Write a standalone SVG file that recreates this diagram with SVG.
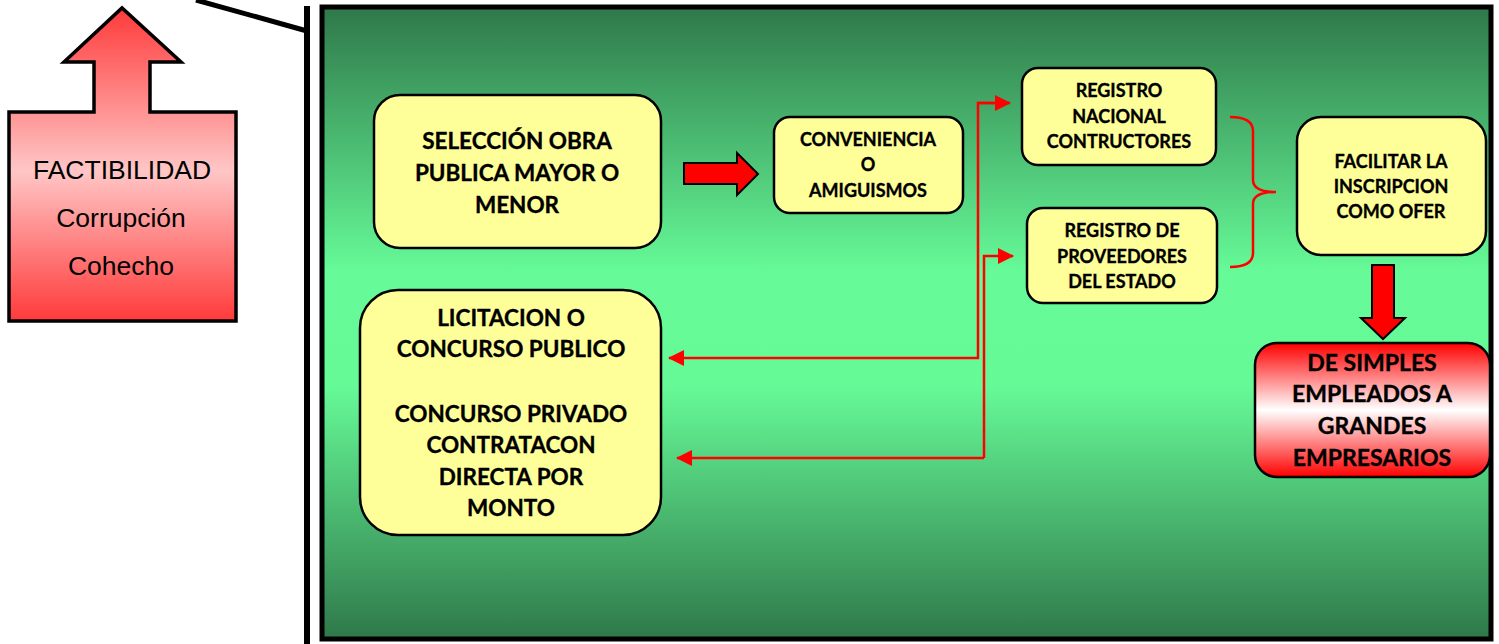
<svg xmlns="http://www.w3.org/2000/svg" width="1499" height="644" viewBox="0 0 1499 644">
<defs>
<linearGradient id="gBg" x1="0" y1="0" x2="0" y2="1">
<stop offset="0" stop-color="#2f784a"/>
<stop offset="0.42" stop-color="#66fb98"/>
<stop offset="0.6" stop-color="#66fa97"/>
<stop offset="1" stop-color="#2f784a"/>
</linearGradient>
<linearGradient id="gUp" x1="0" y1="0" x2="0" y2="1">
<stop offset="0" stop-color="#ff3a3a"/>
<stop offset="0.52" stop-color="#ffc6c6"/>
<stop offset="1" stop-color="#ff3a3a"/>
</linearGradient>
<linearGradient id="gRes" x1="0" y1="0" x2="0" y2="1">
<stop offset="0" stop-color="#ff0000"/>
<stop offset="0.5" stop-color="#ffffff"/>
<stop offset="1" stop-color="#ff0000"/>
</linearGradient>
<marker id="ah" viewBox="0 0 16 16" refX="15" refY="8" markerWidth="16" markerHeight="16" markerUnits="userSpaceOnUse" orient="auto">
<path d="M0,0 L16,8 L0,16 Z" fill="#ff0000"/>
</marker>
<style>
.box{fill:#ffff99;stroke:#000;stroke-width:2.5}
.t{font-family:Lato,"Liberation Sans",sans-serif;font-weight:bold;fill:#000;stroke:#000;stroke-width:0.35;text-anchor:middle}
.big{font-size:22.5px}
.res{font-size:23px}
.sm{font-size:18px}
.conn{fill:none;stroke:#ff0000;stroke-width:2.5}
.blk{fill:#ff0000;stroke:#000;stroke-width:2}
.lab{font-family:"Liberation Sans",Arial,sans-serif;font-size:26.5px;fill:#000;text-anchor:middle}
</style>
</defs>

<g id="frame">
<line x1="196" y1="0" x2="307" y2="31" stroke="#000" stroke-width="5"/>
<line x1="307" y1="6" x2="307" y2="644" stroke="#000" stroke-width="6"/>
<rect x="322" y="7" width="1169" height="632" fill="url(#gBg)" stroke="#000" stroke-width="5"/>
</g>

<g id="factibilidad">
<path d="M9,112 L94,112 L94,62 L64,62 L122,8 L181,62 L150,62 L150,112 L236,112 L236,321 L9,321 Z" fill="url(#gUp)" stroke="#000" stroke-width="3.5"/>
<text class="lab" x="122" y="179">FACTIBILIDAD</text>
<text class="lab" x="121" y="227">Corrupción</text>
<text class="lab" x="121" y="275">Cohecho</text>
</g>

<g id="seleccion">
<rect class="box" x="374" y="95" width="287" height="153" rx="26"/>
<text class="t big" x="517" y="149">SELECCIÓN OBRA</text>
<text class="t big" x="517" y="181">PUBLICA MAYOR O</text>
<text class="t big" x="517" y="213">MENOR</text>
</g>

<g id="arrow-right">
<path class="blk" d="M684,163 L737,163 L737,153 L758,174 L737,195 L737,184 L684,184 Z"/>
</g>

<g id="conveniencia">
<rect class="box" x="774" y="117" width="189" height="96" rx="16"/>
<text class="t sm" x="868" y="146">CONVENIENCIA</text>
<text class="t sm" x="868" y="171">O</text>
<text class="t sm" x="868" y="197">AMIGUISMOS</text>
</g>

<g id="registro-nacional">
<rect class="box" x="1022" y="68" width="194" height="97" rx="16"/>
<text class="t sm" x="1119" y="97">REGISTRO</text>
<text class="t sm" x="1119" y="123">NACIONAL</text>
<text class="t sm" x="1119" y="148">CONTRUCTORES</text>
</g>

<g id="registro-proveedores">
<rect class="box" x="1027" y="208" width="190" height="95" rx="16"/>
<text class="t sm" x="1122" y="237">REGISTRO DE</text>
<text class="t sm" x="1122" y="263">PROVEEDORES</text>
<text class="t sm" x="1122" y="288">DEL ESTADO</text>
</g>

<g id="facilitar">
<rect class="box" x="1297" y="117" width="189" height="138" rx="24"/>
<text class="t sm" x="1391" y="168">FACILITAR LA</text>
<text class="t sm" x="1391" y="193">INSCRIPCION</text>
<text class="t sm" x="1391" y="218">COMO OFER</text>
</g>

<g id="arrow-down">
<path class="blk" d="M1372,265 L1394,265 L1394,318 L1405,318 L1383,339 L1361,318 L1372,318 Z"/>
</g>

<g id="resultado">
<rect x="1255" y="343" width="235" height="134" rx="22" fill="url(#gRes)" stroke="#000" stroke-width="2.5"/>
<text class="t res" x="1372" y="371">DE SIMPLES</text>
<text class="t res" x="1372" y="402">EMPLEADOS A</text>
<text class="t res" x="1372" y="434">GRANDES</text>
<text class="t res" x="1372" y="466">EMPRESARIOS</text>
</g>

<g id="licitacion">
<rect class="box" x="360" y="290" width="301" height="245" rx="38"/>
<text class="t big" x="511" y="326">LICITACION O</text>
<text class="t big" x="511" y="357">CONCURSO PUBLICO</text>
<text class="t big" x="511" y="422">CONCURSO PRIVADO</text>
<text class="t big" x="511" y="453">CONTRATACON</text>
<text class="t big" x="511" y="485">DIRECTA POR</text>
<text class="t big" x="511" y="516">MONTO</text>
</g>

<g id="connectors">
<path class="conn" d="M994,103 L978,103 L978,358 L669,358" marker-end="url(#ah)"/>
<path class="conn" d="M978,103 L1010,103" marker-end="url(#ah)"/>
<path class="conn" d="M984,458 L984,256 L1013,256" marker-end="url(#ah)"/>
<path class="conn" d="M984,458 L677,458" marker-end="url(#ah)"/>
<path class="conn" d="M1230,117 Q1253,117 1253,131 L1253,180 Q1253,192 1276,192 Q1253,192 1253,204 L1253,253 Q1253,267 1230,267"/>
</g>
</svg>
